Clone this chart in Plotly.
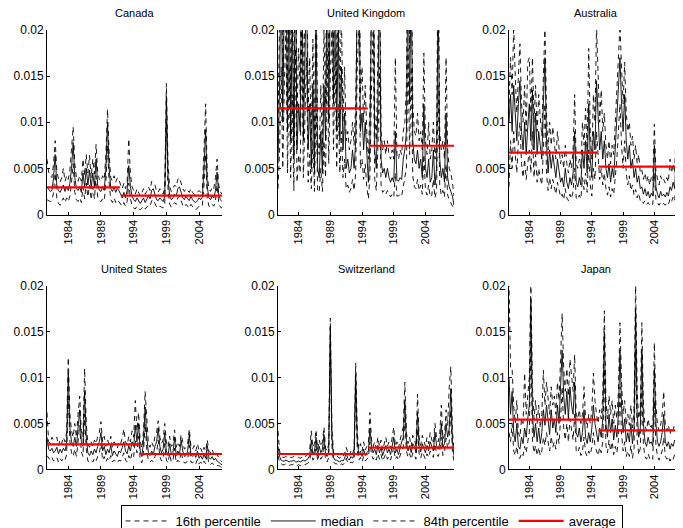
import plotly.graph_objects as go

# ---------------- data (units of 1e-3), quarterly from 1980.75 ----------------
start_year = 1980.75
countries = ["Canada", "United Kingdom", "Australia", "United States", "Switzerland", "Japan"]

canada_med = [3.0,
    2.8, 2.5, 2.6, 4.0,  6.5, 3.2, 2.6, 2.4,  2.8, 3.2, 2.5, 3.0,  2.6, 3.4, 5.0, 7.8,
    4.0, 2.8, 2.6, 3.0,  2.4, 4.5, 3.0, 5.0,  3.2, 4.8, 2.8, 4.5,  3.0, 6.0, 3.2, 2.6,
    2.5, 3.0, 2.6, 5.0,  10.0, 5.0, 2.8, 2.5, 3.0, 2.4, 2.8, 2.6,  2.2, 1.8, 2.4, 1.8,
    2.6, 5.3, 3.0, 2.0,  1.6, 1.4, 1.8, 1.5,  1.2, 1.5, 1.8, 1.3,  1.6, 2.0, 1.7, 2.6,
    2.8, 2.2, 1.6, 1.5,  1.8, 1.6, 1.4, 2.0,  12.8, 4.0, 2.0, 1.6, 1.8, 2.2, 2.0, 2.8,
    3.0, 2.4, 1.8, 1.6,  2.0, 1.7, 1.5, 2.0,  1.6, 1.4, 1.3, 1.5,  1.8, 1.6, 1.9, 5.0,
    9.2, 3.0, 1.8, 1.6,  2.0, 1.8, 2.6, 4.6,  2.2, 1.6, 1.4]
canada_p84 = [6.0,
    4.6, 4.2, 4.0, 5.5,  8.0, 4.8, 3.8, 3.5,  4.0, 5.0, 3.6, 4.2,  3.8, 4.8, 7.0, 9.5,
    5.5, 4.0, 3.6, 4.2,  3.6, 6.0, 4.2, 6.5,  4.5, 6.4, 4.0, 6.0,  4.4, 7.6, 4.6, 3.8,
    3.6, 4.2, 3.8, 6.5,  11.4, 6.5, 4.0, 3.6, 4.2, 3.5, 4.0, 3.8,  3.2, 2.8, 3.4, 2.8,
    3.6, 8.2, 4.4, 3.0,  2.6, 2.2, 2.8, 2.4,  2.0, 2.4, 2.8, 2.2,  2.5, 3.0, 2.6, 3.6,
    3.4, 3.2, 2.5, 2.4,  2.8, 2.5, 2.2, 3.0,  14.2, 5.5, 3.0, 2.5, 2.8, 3.2, 3.0, 3.8,
    4.0, 3.4, 2.8, 2.5,  2.8, 2.6, 2.4, 2.8,  2.4, 2.2, 2.1, 2.4,  2.6, 2.4, 2.8, 7.0,
    12.0, 4.2, 2.8, 2.5, 3.0, 2.8, 4.0, 6.0,  3.2, 2.5, 2.2]
canada_p16 = [1.6,
    1.5, 1.4, 1.5, 2.4,  4.5, 1.8, 1.2, 1.0,  1.4, 1.8, 1.3, 1.8,  1.4, 2.0, 3.5, 5.5,
    2.4, 1.6, 1.4, 1.8,  1.3, 3.0, 1.7, 3.4,  1.9, 3.2, 1.6, 3.0,  1.7, 4.2, 1.9, 1.5,
    1.4, 1.7, 1.5, 3.4,  7.5, 3.4, 1.6, 1.3,  1.8, 1.3, 1.6, 1.4,  1.2, 0.9, 1.3, 0.9,
    1.4, 3.4, 1.7, 1.0,  0.7, 0.6, 0.9, 0.7,  0.5, 0.7, 0.9, 0.6,  0.8, 1.0, 0.9, 1.5,
    1.6, 1.2, 0.8, 0.7,  0.9, 0.8, 0.7, 1.1,  10.0, 2.6, 1.1, 0.8, 1.0, 1.3, 1.1, 1.8,
    2.0, 1.4, 1.0, 0.8,  1.1, 0.9, 0.7, 1.1,  0.8, 0.6, 0.5, 0.7,  0.9, 0.8, 1.0, 3.2,
    6.5, 1.8, 0.9, 0.8,  1.1, 0.9, 1.5, 3.2,  1.2, 0.8, 0.7]

uk_med = [5.5,
    14.0, 28.0, 10.0, 24.0,  30.0, 9.0, 26.0, 8.0,  22.0, 6.0, 28.0, 7.0,  12.0, 9.0, 30.0, 8.0,
    18.0, 26.0, 7.0, 12.0,  5.0, 14.0, 4.5, 22.0,  5.0, 4.0, 9.0, 4.5,  14.0, 8.0, 28.0, 10.0,
    24.0, 30.0, 12.0, 28.0,  9.0, 20.0, 8.0, 16.0,  7.0, 11.0, 5.0, 6.0,  4.5, 5.0, 7.0, 5.0,
    8.0, 26.0, 30.0, 9.0,  11.0, 7.0, 10.0, 6.0,  3.5, 8.0, 24.0, 30.0,  7.0, 5.0, 12.0, 26.0,
    6.0, 4.5, 5.0, 4.0,  5.0, 4.0, 3.5, 4.0,  3.5, 9.0, 3.8, 3.6,  4.0, 3.8, 6.0, 7.0,
    9.0, 28.0, 12.0, 26.0,  8.0, 6.0, 5.5, 7.0,  5.0, 6.0, 4.0, 12.0,  5.0, 4.0, 6.0, 3.5,
    4.0, 7.0, 3.2, 5.0,  24.0, 6.0, 4.0, 5.0,  3.5, 11.0, 4.0, 3.0,  2.5, 2.0, 1.0]
uk_p84 = [9.0,
    20.0, 34.0, 15.0, 30.0,  36.0, 13.0, 32.0, 12.0,  28.0, 9.0, 34.0, 11.0,  18.0, 13.0, 36.0, 12.0,
    24.0, 32.0, 11.0, 17.0,  8.0, 19.0, 7.0, 28.0,  8.0, 6.5, 14.0, 7.0,  20.0, 12.0, 34.0, 15.0,
    30.0, 36.0, 17.0, 34.0,  13.0, 26.0, 12.0, 22.0,  10.0, 16.0, 8.0, 9.0,  7.0, 8.0, 10.0, 7.5,
    12.0, 32.0, 36.0, 13.0,  16.0, 10.0, 14.0, 9.0,  6.0, 12.0, 30.0, 36.0,  11.0, 8.0, 17.0, 32.0,
    9.0, 7.0, 8.0, 6.5,  8.0, 6.5, 6.0, 7.0,  6.0, 17.0, 6.5, 6.0,  7.0, 6.5, 9.0, 10.0,
    14.0, 34.0, 18.0, 32.0,  12.0, 9.0, 8.5, 11.0,  8.0, 9.0, 7.0, 17.5,  8.0, 6.5, 10.0, 6.0,
    7.0, 10.0, 6.0, 8.0,  30.0, 9.0, 7.0, 8.0,  6.0, 17.0, 7.0, 5.0,  4.5, 3.5, 2.0]
uk_p16 = [2.8,
    7.0, 16.0, 5.0, 14.0,  20.0, 4.5, 16.0, 4.0,  13.0, 2.6, 18.0, 3.5,  6.5, 4.5, 20.0, 4.0,
    10.0, 17.0, 3.5, 6.5,  2.8, 8.0, 2.5, 13.0,  2.6, 2.4, 5.0, 2.5,  8.0, 4.0, 18.0, 5.5,
    15.0, 20.0, 7.0, 18.0,  5.0, 12.0, 4.5, 9.0,  4.0, 6.0, 2.8, 3.2,  2.4, 2.8, 3.8, 2.6,
    4.5, 16.0, 20.0, 5.0,  6.0, 3.8, 5.5, 3.0,  1.7, 4.2, 14.0, 20.0,  3.8, 2.6, 7.0, 16.0,
    3.2, 2.4, 2.6, 2.2,  2.6, 2.2, 1.9, 2.2,  1.9, 4.5, 2.0, 2.0,  2.2, 2.0, 3.0, 3.8,
    5.0, 18.0, 6.5, 16.0,  4.2, 3.0, 2.8, 3.8,  2.6, 3.2, 2.2, 6.5,  2.6, 2.1, 3.2, 1.9,
    2.1, 3.8, 1.8, 2.6,  14.0, 3.2, 2.1, 2.6,  1.9, 5.5, 2.1, 1.6,  1.3, 1.0, 0.6]

aus_med = [10.0,
    13.0, 9.0, 14.0, 11.0,  8.0, 12.0, 14.5, 9.0,  7.0, 10.0, 6.5, 9.5,  12.0, 8.0, 13.5, 7.0,
    11.0, 6.5, 9.0, 7.5,  6.0, 12.0, 17.0, 8.0,  4.5, 7.0, 5.0, 6.5,  5.0, 4.0, 6.0, 4.5,
    3.5, 4.0, 3.0, 5.0,  3.5, 2.8, 4.0, 3.2,  4.5, 9.0, 3.5, 3.0,  4.0, 3.2, 7.0, 5.0,
    8.0, 4.5, 12.0, 6.0,  4.0, 9.0, 7.0, 14.5,  11.0, 7.0, 9.0, 6.0,  8.0, 5.0, 4.0, 5.5,
    3.5, 5.0, 4.0, 7.0,  10.0, 14.0, 17.0, 12.0,  9.0, 13.0, 8.0, 6.0,  7.5, 5.0, 6.0, 4.0,
    5.0, 3.5, 4.2, 2.8,  3.0, 2.2, 2.8, 2.0,  2.5, 1.8, 2.3, 2.0,  7.5, 3.0, 2.2, 1.8,
    2.5, 2.0, 2.2, 1.9,  2.4, 2.0, 3.0, 2.6,  3.5, 2.8, 7.0, 3.0,  2.6, 3.0, 2.0]
aus_p84 = [12.0,
    17.0, 13.0, 20.5, 15.0,  11.0, 15.0, 18.5, 12.0,  10.0, 14.0, 9.0, 16.5,  17.0, 11.0, 17.0, 10.0,
    14.0, 9.0, 13.0, 10.5,  8.5, 15.0, 20.5, 11.0,  7.0, 10.0, 7.5, 9.5,  8.0, 6.0, 9.0, 7.0,
    5.5, 6.5, 5.0, 7.5,  5.5, 4.5, 6.0, 5.0,  7.0, 13.0, 5.5, 5.0,  6.0, 5.0, 10.0, 7.5,
    11.5, 7.0, 18.0, 9.0,  6.0, 13.0, 10.0, 20.5,  15.0, 10.0, 13.5, 9.0,  11.0, 7.5, 6.0, 8.0,
    5.5, 7.5, 6.5, 10.0,  13.0, 17.0, 20.5, 16.0,  12.0, 16.5, 11.0, 9.0,  10.0, 7.5, 8.5, 6.0,
    7.5, 5.5, 6.5, 4.5,  4.8, 3.8, 4.5, 3.5,  4.2, 3.2, 4.0, 3.6,  9.8, 4.6, 3.8, 3.2,
    4.2, 3.6, 3.8, 3.4,  4.0, 3.5, 6.0, 4.5,  5.5, 4.5, 10.0, 5.0,  4.2, 4.8, 3.5]
aus_p16 = [3.0,
    8.0, 5.0, 9.0, 6.5,  4.5, 8.0, 10.0, 5.5,  4.0, 6.0, 3.8, 5.5,  7.0, 4.5, 9.0, 4.0,
    6.5, 3.5, 5.0, 4.0,  3.2, 7.0, 12.0, 4.5,  2.6, 4.0, 2.8, 3.8,  2.8, 2.2, 3.5, 2.5,
    1.9, 2.2, 1.6, 2.8,  1.8, 1.5, 2.2, 1.7,  2.5, 5.0, 1.8, 1.6,  2.1, 1.7, 4.0, 2.7,
    4.5, 2.4, 7.0, 3.2,  2.0, 5.0, 3.8, 9.0,  6.5, 3.8, 5.0, 3.2,  4.5, 2.8, 2.1, 3.0,
    1.9, 2.8, 2.2, 4.0,  6.0, 9.0, 12.0, 7.5,  5.0, 8.0, 4.5, 3.2,  4.2, 2.6, 3.2, 2.1,
    2.7, 1.8, 2.3, 1.5,  1.6, 1.2, 1.5, 1.1,  1.3, 1.0, 1.2, 1.1,  4.5, 1.6, 1.2, 1.0,
    1.3, 1.1, 1.2, 1.0,  1.3, 1.1, 1.7, 1.4,  1.9, 1.5, 4.0, 1.6,  1.4, 1.6, 1.1]

us_med = [3.5,
    2.2, 2.0, 2.3, 1.8,  2.0, 2.4, 1.7, 2.2,  1.8, 2.3, 2.0, 2.8,  10.5, 4.5, 3.0, 2.5,
    3.5, 2.5, 4.5, 6.5,  3.0, 2.5, 8.5, 3.5,  1.8, 1.5, 2.0, 1.6,  2.2, 1.8, 2.5, 3.0,
    4.0, 2.0, 2.5, 1.6,  2.2, 1.8, 2.6, 1.5,  2.0, 1.7, 1.4, 2.0,  1.8, 2.4, 3.0, 2.0,
    1.7, 2.6, 2.0, 3.0,  2.5, 4.8, 3.0, 5.0,  2.0, 1.4, 3.0, 6.8,  3.5, 1.8, 1.5, 2.0,
    1.6, 2.5, 3.0, 4.5,  2.5, 1.8, 2.2, 4.0,  2.0, 1.5, 2.8, 1.6,  1.8, 3.5, 1.5, 2.0,
    1.6, 3.2, 2.0, 1.4,  1.5, 2.0, 3.8, 1.6,  1.4, 1.7, 1.3, 2.0,  1.2, 1.5, 1.1, 1.6,
    1.2, 2.6, 1.3, 1.1,  1.4, 1.0, 1.2, 0.9,  0.8, 0.6, 0.5]
us_p84 = [6.2,
    3.0, 2.8, 3.5, 3.2,  3.4, 3.5, 2.6, 3.2,  2.8, 3.5, 3.0, 4.0,  12.2, 6.0, 4.2, 3.5,
    5.0, 3.5, 6.0, 8.0,  4.2, 3.5, 11.0, 5.0,  2.8, 2.4, 3.0, 2.5,  3.2, 2.8, 3.6, 4.0,
    5.2, 3.0, 3.6, 2.5,  3.2, 2.8, 3.6, 2.4,  3.0, 2.6, 2.3, 3.0,  2.8, 3.4, 4.4, 3.0,
    2.6, 3.6, 3.0, 4.2,  3.5, 7.5, 4.2, 6.2,  3.0, 2.3, 4.2, 8.5,  4.8, 2.8, 2.4, 3.0,
    2.5, 3.6, 4.0, 5.3,  3.5, 2.8, 3.2, 5.0,  3.0, 2.4, 3.6, 2.5,  2.7, 4.3, 2.4, 3.0,
    2.5, 3.8, 3.0, 2.2,  2.4, 2.8, 4.4, 2.5,  2.2, 2.6, 2.0, 2.8,  2.0, 2.3, 1.8, 2.4,
    2.0, 3.2, 2.0, 1.8,  2.2, 1.6, 1.9, 1.5,  1.3, 1.0, 0.8]
us_p16 = [1.5,
    1.2, 1.0, 1.3, 0.9,  1.1, 1.3, 0.8, 1.2,  0.9, 1.2, 1.0, 1.6,  8.0, 3.0, 1.8, 1.4,
    2.2, 1.4, 3.0, 4.8,  1.9, 1.4, 6.0, 2.2,  0.9, 0.8, 1.0, 0.8,  1.2, 0.9, 1.4, 1.8,
    2.8, 1.0, 1.4, 0.8,  1.2, 0.9, 1.5, 0.8,  1.0, 0.9, 0.7, 1.0,  0.9, 1.3, 1.8, 1.0,
    0.8, 1.5, 1.0, 1.8,  1.4, 3.2, 1.8, 3.6,  1.0, 0.7, 1.8, 5.0,  2.2, 0.9, 0.8, 1.0,
    0.8, 1.4, 1.8, 3.2,  1.4, 0.9, 1.2, 2.8,  1.0, 0.7, 1.7, 0.8,  0.9, 2.3, 0.7, 1.0,
    0.8, 2.0, 1.0, 0.7,  0.7, 1.0, 2.6, 0.8,  0.7, 0.9, 0.6, 1.1,  0.6, 0.8, 0.5, 0.9,
    0.6, 1.7, 0.6, 0.5,  0.7, 0.5, 0.6, 0.4,  0.4, 0.3, 0.2]

swi_med = [2.5,
    1.4, 1.0, 0.9, 0.9,  1.0, 0.9, 0.8, 0.9,  0.9, 1.0, 0.8, 0.8,  0.9, 0.8, 0.9, 1.0,
    0.9, 1.0, 1.2, 1.5,  3.2, 1.6, 2.0, 3.5,  1.5, 2.5, 1.8, 2.2,  3.8, 1.6, 1.4, 2.0,
    15.5, 3.5, 1.3, 1.0,  1.0, 0.9, 0.8, 1.0,  0.9, 1.2, 1.8, 1.2,  1.0, 1.4, 1.2, 1.6,
    10.5, 3.0, 1.6, 2.0,  1.4, 2.2, 1.5, 1.8,  2.0, 4.5, 2.4, 1.8,  2.2, 1.6, 2.6, 1.8,
    2.4, 1.5, 2.0, 2.6,  1.8, 2.2, 1.6, 2.8,  3.5, 1.8, 2.2, 1.6,  2.5, 3.0, 3.5, 7.5,
    3.0, 2.0, 2.6, 1.8,  2.8, 2.5, 1.8, 6.2,  2.6, 1.9, 2.8, 2.2,  1.8, 2.6, 2.0, 3.0,
    2.4, 2.0, 4.0, 2.6,  2.2, 2.8, 5.0, 2.4,  2.8, 5.0, 3.5, 4.5,  8.8, 3.0, 1.5]
swi_p84 = [4.2,
    2.0, 1.4, 1.3, 1.3,  1.4, 1.3, 1.2, 1.3,  1.3, 1.4, 1.2, 1.2,  1.3, 1.2, 1.3, 1.4,
    1.3, 1.5, 1.8, 2.2,  4.2, 2.4, 2.8, 4.3,  2.2, 3.2, 2.5, 3.0,  4.6, 2.3, 2.0, 2.8,
    16.5, 4.5, 1.9, 1.5,  1.5, 1.3, 1.2, 1.5,  1.4, 1.7, 2.4, 1.8,  1.5, 2.0, 1.7, 2.2,
    11.6, 4.0, 2.2, 2.8,  2.0, 3.0, 2.1, 2.5,  2.8, 6.2, 3.2, 2.5,  3.0, 2.3, 3.5, 2.5,
    3.2, 2.1, 2.8, 3.5,  2.5, 3.0, 2.3, 3.8,  4.6, 2.5, 3.0, 2.3,  3.4, 4.0, 4.6, 9.5,
    4.0, 2.8, 3.5, 2.5,  3.7, 3.3, 2.5, 8.2,  3.5, 2.6, 3.7, 3.0,  2.5, 3.5, 2.8, 4.0,
    3.2, 2.8, 5.0, 3.5,  3.0, 3.8, 7.0, 3.3,  3.8, 6.5, 4.8, 9.0,  11.2, 4.2, 2.2]
swi_p16 = [1.5,
    0.8, 0.6, 0.5, 0.5,  0.6, 0.5, 0.4, 0.5,  0.5, 0.6, 0.4, 0.4,  0.5, 0.4, 0.5, 0.6,
    0.5, 0.6, 0.7, 0.9,  2.2, 1.0, 1.3, 2.6,  0.9, 1.7, 1.1, 1.4,  2.8, 1.0, 0.8, 1.3,
    14.0, 2.5, 0.8, 0.6,  0.6, 0.5, 0.4, 0.6,  0.5, 0.7, 1.2, 0.7,  0.6, 0.8, 0.7, 1.0,
    9.0, 2.0, 1.0, 1.3,  0.8, 1.4, 0.9, 1.1,  1.3, 3.0, 1.6, 1.1,  1.4, 1.0, 1.7, 1.1,
    1.6, 0.9, 1.3, 1.7,  1.1, 1.4, 1.0, 1.8,  2.4, 1.1, 1.4, 1.0,  1.6, 2.0, 2.4, 5.5,
    2.0, 1.3, 1.7, 1.1,  1.8, 1.6, 1.1, 4.4,  1.7, 1.2, 1.9, 1.4,  1.1, 1.7, 1.3, 2.0,
    1.6, 1.3, 2.8, 1.7,  1.4, 1.9, 3.5, 1.5,  1.8, 3.4, 2.3, 3.0,  6.5, 1.9, 0.9]

jpn_med = [10.0,
    6.0, 8.5, 4.0, 3.0,  5.0, 2.5, 2.2, 3.5,  2.8, 4.5, 3.5, 5.5,  7.0, 18.5, 6.0, 3.5,
    5.0, 3.0, 4.5, 2.8,  4.0, 6.5, 4.8, 7.0,  5.0, 3.8, 6.5, 4.5,  5.5, 4.0, 7.0, 5.0,
    9.0, 13.0, 8.0, 6.0,  8.5, 5.5, 9.0, 7.0,  6.0, 9.5, 4.0, 3.5,  4.5, 3.0, 4.0, 6.5,
    3.5, 2.8, 4.0, 3.0,  4.5, 7.0, 5.0, 4.0,  3.0, 4.5, 3.5, 5.5,  15.0, 5.0, 3.5, 6.0,
    4.0, 5.5, 3.2, 4.8,  3.5, 6.0, 13.0, 7.0,  4.0, 5.5, 3.0, 4.0,  3.0, 5.0, 2.8, 4.5,
    17.5, 6.0, 3.5, 4.5,  13.0, 5.0, 3.0, 2.5,  3.5, 2.8, 3.0, 2.5,  11.0, 5.0, 3.0, 2.5,
    3.0, 4.0, 6.0, 3.0,  2.5, 3.0, 2.2, 2.8,  2.5, 3.2, 3.0, 5.0,  3.0, 2.5, 2.0]
jpn_p84 = [20.5,
    11.0, 11.0, 7.0, 5.0,  7.5, 4.0, 3.5, 5.5,  5.0, 10.5, 6.0, 8.0,  10.0, 20.5, 9.0, 5.5,
    7.5, 5.0, 7.0, 4.5,  6.0, 10.8, 7.0, 9.5,  7.5, 6.0, 9.0, 7.0,  8.0, 6.0, 9.5, 7.5,
    12.0, 17.0, 11.0, 8.5,  11.0, 8.0, 12.0, 10.0,  8.5, 12.5, 6.0, 5.5,  6.5, 5.0, 6.0, 9.0,
    5.5, 4.5, 6.0, 5.0,  6.5, 10.5, 7.5, 6.0,  5.0, 6.5, 5.5, 8.0,  17.3, 7.5, 5.5, 8.0,
    6.0, 7.5, 5.0, 7.0,  5.5, 8.5, 16.0, 9.5,  6.0, 7.5, 4.8, 6.0,  4.8, 7.0, 4.5, 6.5,
    20.5, 8.5, 5.5, 6.5,  16.0, 7.0, 4.8, 4.2,  5.5, 4.5, 4.8, 4.2,  13.8, 7.0, 4.8, 4.2,
    4.8, 6.0, 8.5, 4.8,  4.2, 4.8, 3.8, 4.5,  4.2, 5.0, 4.8, 7.0,  5.0, 4.2, 3.5]
jpn_p16 = [4.0,
    3.0, 5.0, 2.0, 1.5,  2.5, 1.3, 1.2, 1.8,  1.5, 2.5, 1.8, 3.0,  4.0, 14.0, 3.2, 1.8,
    2.6, 1.5, 2.4, 1.5,  2.0, 3.5, 2.6, 4.0,  2.8, 2.0, 3.6, 2.4,  3.0, 2.2, 4.0, 2.8,
    5.5, 9.0, 4.5, 3.2,  5.0, 3.0, 5.5, 4.0,  3.2, 6.0, 2.0, 1.8,  2.4, 1.5, 2.0, 3.5,
    1.8, 1.4, 2.0, 1.6,  2.4, 4.0, 2.6, 2.0,  1.5, 2.4, 1.8, 3.0,  11.0, 2.6, 1.8, 3.2,
    2.0, 3.0, 1.6, 2.5,  1.8, 3.2, 9.0, 3.8,  2.0, 3.0, 1.4, 2.0,  1.4, 2.6, 1.2, 2.3,
    13.0, 3.2, 1.6, 2.3,  9.0, 2.6, 1.4, 1.1,  1.7, 1.2, 1.4, 1.1,  7.5, 2.6, 1.4, 1.0,
    1.4, 2.0, 3.5, 1.4,  1.1, 1.4, 0.9, 1.3,  1.1, 1.6, 1.4, 2.6,  1.4, 1.1, 0.9]

# sub-period averages (units of 1e-3) and the year the second period starts
avg_first = [2.95, 11.5, 6.7, 2.73, 1.67, 5.42]
avg_second = [2.05, 7.45, 5.2, 1.67, 2.36, 4.25]
avg_split = [1992.0, 1995.0, 1995.0, 1995.0, 1995.0, 1995.0]

ytick_vals = [0, 0.005, 0.01, 0.015, 0.02]
ytick_text = ["0", "0.005", "0.01", "0.015", "0.02"]
xtick_vals = [1984, 1989, 1994, 1999, 2004]

series = [
    (canada_p16, canada_med, canada_p84),
    (uk_p16, uk_med, uk_p84),
    (aus_p16, aus_med, aus_p84),
    (us_p16, us_med, us_p84),
    (swi_p16, swi_med, swi_p84),
    (jpn_p16, jpn_med, jpn_p84),
]

# ---------------- layout geometry ----------------
# The page places the figure 8px in from the top-left corner of the window,
# so the figure is 8px smaller and positions are given in window pixels minus 8.
OFF = 8
W, H = 683 - OFF, 528 - OFF


def px(v):
    return (v - OFF) / W


def py(v):
    return 1 - (v - OFF) / H


xdoms = [(px(47), px(222)), (px(278), px(454)), (px(509), px(682.5))]
ydoms = [(py(214.5), py(30)), (py(469.3), py(286))]
title_y = [py(13), py(269)]

FONT = "Liberation Sans, Arial, sans-serif"
DASH = "5px,4px"

fig = go.Figure()
annotations = []
for k, (name, (p16, med, p84)) in enumerate(zip(countries, series)):
    row, col = divmod(k, 3)
    ax = "" if k == 0 else str(k + 1)
    xs = [start_year + 0.25 * i for i in range(len(med))]
    x_end = xs[-1]
    first = (k == 0)
    for vals, lname, dash in [(p16, "16th percentile", DASH), (med, "median", "solid"),
                              (p84, "84th percentile", DASH)]:
        fig.add_trace(go.Scatter(
            x=xs, y=[v / 1000 for v in vals], mode="lines",
            line=dict(color="black", width=0.9, dash=dash),
            name=lname, legendgroup=lname, showlegend=first,
            xaxis="x" + ax, yaxis="y" + ax, hoverinfo="skip"))
    s = avg_split[k]
    fig.add_trace(go.Scatter(
        x=[start_year, s - 0.1, None, s + 0.05, x_end],
        y=[avg_first[k] / 1000, avg_first[k] / 1000, None,
           avg_second[k] / 1000, avg_second[k] / 1000],
        mode="lines", line=dict(color="#ff0000", width=2.2),
        name="average", legendgroup="average", showlegend=first,
        xaxis="x" + ax, yaxis="y" + ax, hoverinfo="skip"))

    axis_common = dict(showline=True, linecolor="black", linewidth=1, mirror=False,
                       showgrid=False, zeroline=False, ticks="inside", ticklen=3,
                       tickcolor="black", tickwidth=1, automargin=False)
    fig.layout["xaxis" + ax] = dict(
        domain=xdoms[col], range=[start_year, x_end], anchor="y" + ax,
        tickvals=xtick_vals, ticktext=[str(v) for v in xtick_vals], tickangle=-90,
        tickfont=dict(family=FONT, size=11, color="black"), **axis_common)
    fig.layout["yaxis" + ax] = dict(
        domain=ydoms[row], range=[0, 0.02], anchor="x" + ax,
        tickvals=ytick_vals, ticktext=ytick_text,
        tickfont=dict(family=FONT, size=12, color="black"), **axis_common)
    annotations.append(dict(
        text=name, x=(xdoms[col][0] + xdoms[col][1]) / 2, y=title_y[row],
        xref="paper", yref="paper", xanchor="center", yanchor="middle",
        showarrow=False, font=dict(family=FONT, size=11, color="black")))

fig.update_layout(
    template="none",
    width=W, height=H, margin=dict(l=0, r=0, t=0, b=0, pad=0, autoexpand=False),
    paper_bgcolor="white", plot_bgcolor="white",
    font=dict(family=FONT, size=12, color="black"),
    annotations=annotations,
    legend=dict(orientation="h", x=px(371.5), xanchor="center", y=py(505), yanchor="top",
                bgcolor="white", bordercolor="black", borderwidth=1, itemwidth=45,
                font=dict(family=FONT, size=13, color="black")),
    showlegend=True,
)

fig.write_html("out.html")
